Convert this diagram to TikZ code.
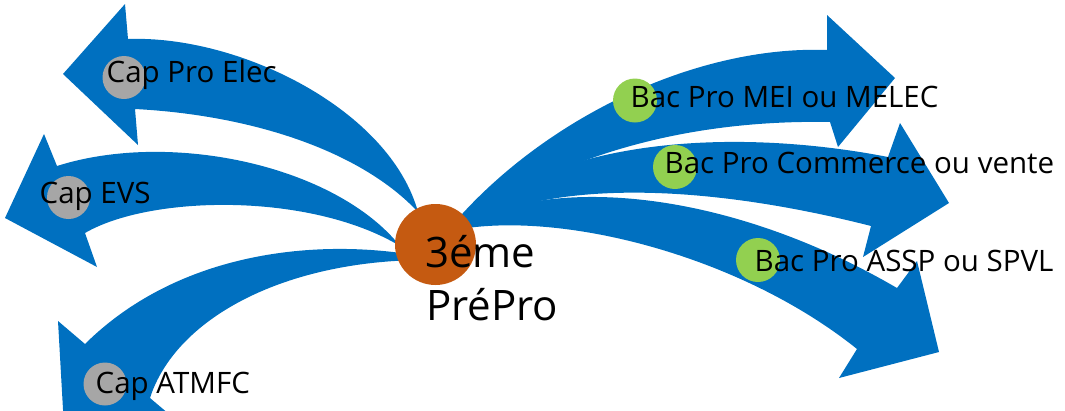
\documentclass[tikz,border=0pt]{standalone}
\usepackage{fontspec}
\setmainfont{Open Sans}
\definecolor{arrblue}{HTML}{0070C0}
\definecolor{orng}{HTML}{C55A11}
\definecolor{grn}{HTML}{92D050}
\definecolor{gry}{HTML}{A6A6A6}
\begin{document}
\begin{tikzpicture}[x=1pt,y=-1pt,
  arr/.style={fill=arrblue},
  dotg/.style={circle,fill=gry,minimum size=43pt,inner sep=0pt},
  dotv/.style={circle,fill=grn,minimum size=44pt,inner sep=0pt},
  hub/.style={circle,fill=orng,minimum size=81pt,inner sep=0pt},
  lbl/.style={anchor=base west,inner sep=0pt,font=\fontsize{29.5}{35}\selectfont,text=black},
  big/.style={anchor=base west,inner sep=0pt,font=\fontsize{42}{50}\selectfont,text=black}]
\useasboundingbox (0,0) rectangle (1065,410);
\clip (0,0) rectangle (1065,410);
% arrow 1 : Cap Pro Elec
\fill[arr] (418,212) .. controls (390,110) and (240,35) .. (128,39)
  -- (125,4) -- (63,74) -- (138,145) -- (135,109)
  .. controls (250,115) and (360,150) .. (418,212) -- cycle;
% arrow 2 : Cap EVS
\fill[arr] (400,246) .. controls (335,165) and (170,130) .. (57,166)
  -- (44,134) -- (5,218) -- (97,267) -- (85,233)
  .. controls (150,195) and (310,192) .. (400,246) -- cycle;
% arrow 3 : Cap ATMFC
\fill[arr] (420,256) .. controls (320,238) and (180,250) .. (85,344)
  -- (58,321) -- (67,480) -- (215,453) -- (150,398)
  .. controls (175,320) and (280,262) .. (420,260) -- cycle;
% arrow 4 : Bac Pro MEI
\fill[arr] (440,240) .. controls (530,125) and (690,45) .. (827,50)
  -- (827,15) -- (895,78) -- (838,147) -- (830,122)
  .. controls (720,120) and (570,140) .. (440,240) -- cycle;
% arrow 5 : Bac Pro Commerce
\fill[arr] (448,236) .. controls (550,130) and (750,130) .. (888,157)
  -- (900,123) -- (949,203) -- (863,257) -- (871,226)
  .. controls (730,190) and (550,170) .. (448,236) -- cycle;
% arrow 6 : Bac Pro ASSP
\fill[arr] (455,230) .. controls (540,175) and (720,185) .. (897,288)
  -- (917,261) -- (939,352) -- (839,378) -- (857,349)
  .. controls (740,255) and (560,210) .. (455,230) -- cycle;
% circles
\node[hub] (hub) at (435.5,244.5) {};
\node[dotg] (g1) at (124,77.5) {};
\node[dotg] (g2) at (68.5,197.5) {};
\node[dotg] (g3) at (105,384) {};
\node[dotv] (v1) at (635,100.5) {};
\node[dotv] (v2) at (675,167) {};
\node[dotv] (v3) at (758,260) {};
% labels
\node[lbl] (t1) at (106.5,82) {Cap Pro Elec};
\node[lbl] (t2) at (39.5,203) {Cap EVS};
\node[lbl] (t3) at (95.5,393) {Cap ATMFC};
\node[lbl] (t4) at (630.5,107.5) {Bac Pro MEI ou MELEC};
\node[lbl] (t5) at (664.5,173.3) {Bac Pro Commerce ou vente};
\node[lbl] (t6) at (754.5,271.7) {Bac Pro ASSP ou SPVL};
\node[big] (c1) at (425,267) {3éme};
\node[big] (c2) at (426,320) {PréPro};
\end{tikzpicture}
\end{document}
